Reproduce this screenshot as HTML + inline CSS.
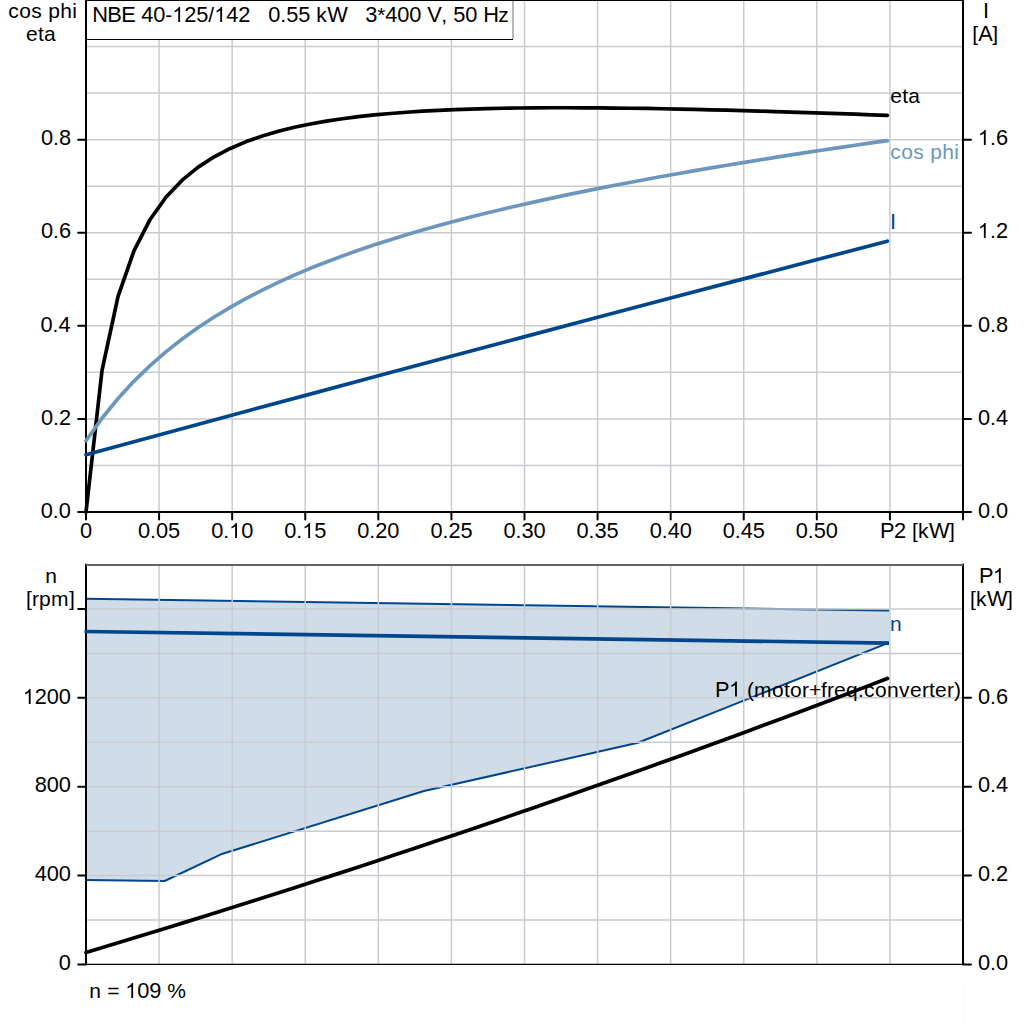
<!DOCTYPE html><html><head><meta charset="utf-8"><style>html,body{margin:0;padding:0;background:#fff;width:1024px;height:1024px;overflow:hidden}svg{display:block}text{font-family:"Liberation Sans", sans-serif;font-size:21px}</style></head><body>
<svg width="1024" height="1024" viewBox="0 0 1024 1024">
<rect width="1024" height="1024" fill="#fff"/>
<path d="M159.08 0V512.0 M232.17 0V512.0 M305.25 0V512.0 M378.33 0V512.0 M451.42 0V512.0 M524.50 0V512.0 M597.58 0V512.0 M670.67 0V512.0 M743.75 0V512.0 M816.83 0V512.0 M889.92 0V512.0 M86.0 465.45H963.0 M86.0 418.91H963.0 M86.0 372.36H963.0 M86.0 325.82H963.0 M86.0 279.27H963.0 M86.0 232.73H963.0 M86.0 186.18H963.0 M86.0 139.64H963.0 M86.0 93.09H963.0 M86.0 46.55H963.0" stroke="#c8ccd0" stroke-width="1.5" fill="none"/>
<rect x="86" y="0.5" width="426.5" height="39" fill="#fff"/>
<path d="M86 39.5H513" stroke="#000" stroke-width="1"/>
<path d="M513 0V39" stroke="#a0a0a0" stroke-width="1.5"/>
<path d="M86.0 0V512.0H963.0V0 M78.2 512.00H86.0 M963.0 512.00H971 M78.2 418.91H86.0 M963.0 418.91H971 M78.2 325.82H86.0 M963.0 325.82H971 M78.2 232.73H86.0 M963.0 232.73H971 M78.2 139.64H86.0 M963.0 139.64H971 M86.00 512.0V519.6 M159.08 512.0V519.6 M232.17 512.0V519.6 M305.25 512.0V519.6 M378.33 512.0V519.6 M451.42 512.0V519.6 M524.50 512.0V519.6 M597.58 512.0V519.6 M670.67 512.0V519.6 M743.75 512.0V519.6 M816.83 512.0V519.6 M889.92 512.0V519.6 M963.00 512.0V519.6" stroke="#000" stroke-width="2" fill="none" stroke-linecap="round"/>
<path d="M86.0 0H963.0" stroke="#000" stroke-width="2"/>
<polyline points="86.00,512.00 102.03,370.34 118.05,296.36 134.08,250.56 150.10,219.46 166.13,197.04 182.16,180.19 198.18,167.14 214.21,156.79 230.23,148.45 246.26,141.61 262.29,135.96 278.31,131.25 294.34,127.29 310.36,123.95 326.39,121.11 342.42,118.71 358.44,116.67 374.47,114.94 390.49,113.47 406.52,112.24 422.55,111.20 438.57,110.33 454.60,109.62 470.62,109.05 486.65,108.60 502.68,108.25 518.70,108.00 534.73,107.84 550.75,107.75 566.78,107.73 582.81,107.78 598.83,107.88 614.86,108.03 630.88,108.23 646.91,108.47 662.94,108.76 678.96,109.07 694.99,109.42 711.01,109.80 727.04,110.21 743.07,110.64 759.09,111.10 775.12,111.58 791.14,112.07 807.17,112.59 823.20,113.12 839.22,113.66 855.25,114.22 871.27,114.79 887.30,115.38" stroke="#000" stroke-width="3.7" fill="none" stroke-linejoin="round" stroke-linecap="round"/>
<polyline points="86.00,440.74 102.03,418.24 118.05,398.54 134.08,381.11 150.10,365.58 166.13,351.62 182.16,339.00 198.18,327.51 214.21,316.99 230.23,307.32 246.26,298.38 262.29,290.08 278.31,282.35 294.34,275.13 310.36,268.34 326.39,261.96 342.42,255.93 358.44,250.22 374.47,244.81 390.49,239.65 406.52,234.73 422.55,230.03 438.57,225.53 454.60,221.20 470.62,217.05 486.65,213.04 502.68,209.18 518.70,205.44 534.73,201.83 550.75,198.32 566.78,194.92 582.81,191.62 598.83,188.40 614.86,185.27 630.88,182.21 646.91,179.22 662.94,176.30 678.96,173.45 694.99,170.65 711.01,167.91 727.04,165.22 743.07,162.58 759.09,159.98 775.12,157.43 791.14,154.91 807.17,152.44 823.20,150.00 839.22,147.59 855.25,145.22 871.27,142.87 887.30,140.56" stroke="#6d96bd" stroke-width="3.7" fill="none" stroke-linejoin="round" stroke-linecap="round"/>
<polyline points="86.00,454.71 158.85,434.93 231.69,415.22 304.54,395.59 377.38,376.04 450.23,356.56 523.07,337.15 595.92,317.83 668.76,298.57 741.61,279.39 814.45,260.29 887.30,241.26" stroke="#00468c" stroke-width="3.7" fill="none" stroke-linecap="round" stroke-linejoin="round"/>
<text y="22"><tspan x="92.28" font-size="21.8">N</tspan><tspan x="107.28" font-size="21.8">B</tspan><tspan x="121.28" font-size="21.8">E</tspan><tspan x="141.28" font-size="21.8">4</tspan><tspan x="153.28" font-size="21.8">0</tspan><tspan x="165.28">-</tspan><tspan x="184.28" font-size="21.8">2</tspan><tspan x="196.28" font-size="21.8">5</tspan><tspan x="208.28">/</tspan><tspan x="226.28" font-size="21.8">4</tspan><tspan x="238.28" font-size="21.8">2</tspan><tspan x="268.28" font-size="21.8">0</tspan><tspan x="280.28">.</tspan><tspan x="286.28" font-size="21.8">5</tspan><tspan x="298.28" font-size="21.8">5</tspan><tspan x="316.28">k</tspan><tspan x="327.28" font-size="21.8">W</tspan><tspan x="365.28" font-size="21.8">3</tspan><tspan x="377.28">*</tspan><tspan x="385.28" font-size="21.8">4</tspan><tspan x="397.28" font-size="21.8">0</tspan><tspan x="409.28" font-size="21.8">0</tspan><tspan x="427.28" font-size="21.8">V</tspan><tspan x="441.28">,</tspan><tspan x="453.28" font-size="21.8">5</tspan><tspan x="465.28" font-size="21.8">0</tspan><tspan x="483.28" font-size="21.8">H</tspan><tspan x="498.28">z</tspan></text><path d="M763 0L583 0L583 1147Q518 1085 412 1023Q306 961 223 930L223 1104Q372 1174 484 1274Q596 1374 643 1466L763 1466Z" transform="translate(172.28 22) scale(0.010254 -0.010254)"/><path d="M763 0L583 0L583 1147Q518 1085 412 1023Q306 961 223 930L223 1104Q372 1174 484 1274Q596 1374 643 1466L763 1466Z" transform="translate(214.28 22) scale(0.010254 -0.010254)"/>
<text y="18"><tspan x="8.21">c</tspan><tspan x="19.21">o</tspan><tspan x="31.21">s</tspan><tspan x="48.21">p</tspan><tspan x="60.21">h</tspan><tspan x="72.21">i</tspan></text>
<text y="41"><tspan x="26.11">e</tspan><tspan x="38.11">t</tspan><tspan x="44.11">a</tspan></text>
<text y="18"><tspan x="982.96" font-size="21.8">I</tspan></text>
<text y="41"><tspan x="972.30">[</tspan><tspan x="978.30" font-size="21.8">A</tspan><tspan x="992.30">]</tspan></text>
<text y="518"><tspan x="40.81" font-size="21.8">0</tspan><tspan x="52.81">.</tspan><tspan x="58.81" font-size="21.8">0</tspan></text>
<text y="425"><tspan x="41.05" font-size="21.8">0</tspan><tspan x="53.05">.</tspan><tspan x="59.05" font-size="21.8">2</tspan></text>
<text y="332"><tspan x="40.61" font-size="21.8">0</tspan><tspan x="52.61">.</tspan><tspan x="58.61" font-size="21.8">4</tspan></text>
<text y="238"><tspan x="40.92" font-size="21.8">0</tspan><tspan x="52.92">.</tspan><tspan x="58.92" font-size="21.8">6</tspan></text>
<text y="145"><tspan x="40.91" font-size="21.8">0</tspan><tspan x="52.91">.</tspan><tspan x="58.91" font-size="21.8">8</tspan></text>
<text y="518"><tspan x="977.90" font-size="21.8">0</tspan><tspan x="989.90">.</tspan><tspan x="995.90" font-size="21.8">0</tspan></text>
<text y="425"><tspan x="977.90" font-size="21.8">0</tspan><tspan x="989.90">.</tspan><tspan x="995.90" font-size="21.8">4</tspan></text>
<text y="332"><tspan x="977.90" font-size="21.8">0</tspan><tspan x="989.90">.</tspan><tspan x="995.90" font-size="21.8">8</tspan></text>
<text y="238"><tspan x="989.90">.</tspan><tspan x="995.90" font-size="21.8">2</tspan></text><path d="M763 0L583 0L583 1147Q518 1085 412 1023Q306 961 223 930L223 1104Q372 1174 484 1274Q596 1374 643 1466L763 1466Z" transform="translate(977.90 238) scale(0.010254 -0.010254)"/>
<text y="145"><tspan x="989.90">.</tspan><tspan x="995.90" font-size="21.8">6</tspan></text><path d="M763 0L583 0L583 1147Q518 1085 412 1023Q306 961 223 930L223 1104Q372 1174 484 1274Q596 1374 643 1466L763 1466Z" transform="translate(977.90 145) scale(0.010254 -0.010254)"/>
<text y="538"><tspan x="79.99" font-size="21.8">0</tspan></text>
<text y="538"><tspan x="138.11" font-size="21.8">0</tspan><tspan x="150.11">.</tspan><tspan x="156.11" font-size="21.8">0</tspan><tspan x="168.11" font-size="21.8">5</tspan></text>
<text y="538"><tspan x="211.16" font-size="21.8">0</tspan><tspan x="223.16">.</tspan><tspan x="241.16" font-size="21.8">0</tspan></text><path d="M763 0L583 0L583 1147Q518 1085 412 1023Q306 961 223 930L223 1104Q372 1174 484 1274Q596 1374 643 1466L763 1466Z" transform="translate(229.16 538) scale(0.010254 -0.010254)"/>
<text y="538"><tspan x="284.27" font-size="21.8">0</tspan><tspan x="296.27">.</tspan><tspan x="314.27" font-size="21.8">5</tspan></text><path d="M763 0L583 0L583 1147Q518 1085 412 1023Q306 961 223 930L223 1104Q372 1174 484 1274Q596 1374 643 1466L763 1466Z" transform="translate(302.27 538) scale(0.010254 -0.010254)"/>
<text y="538"><tspan x="357.33" font-size="21.8">0</tspan><tspan x="369.33">.</tspan><tspan x="375.33" font-size="21.8">2</tspan><tspan x="387.33" font-size="21.8">0</tspan></text>
<text y="538"><tspan x="430.44" font-size="21.8">0</tspan><tspan x="442.44">.</tspan><tspan x="448.44" font-size="21.8">2</tspan><tspan x="460.44" font-size="21.8">5</tspan></text>
<text y="538"><tspan x="503.49" font-size="21.8">0</tspan><tspan x="515.49">.</tspan><tspan x="521.49" font-size="21.8">3</tspan><tspan x="533.49" font-size="21.8">0</tspan></text>
<text y="538"><tspan x="576.61" font-size="21.8">0</tspan><tspan x="588.61">.</tspan><tspan x="594.61" font-size="21.8">3</tspan><tspan x="606.61" font-size="21.8">5</tspan></text>
<text y="538"><tspan x="649.66" font-size="21.8">0</tspan><tspan x="661.66">.</tspan><tspan x="667.66" font-size="21.8">4</tspan><tspan x="679.66" font-size="21.8">0</tspan></text>
<text y="538"><tspan x="722.77" font-size="21.8">0</tspan><tspan x="734.77">.</tspan><tspan x="740.77" font-size="21.8">4</tspan><tspan x="752.77" font-size="21.8">5</tspan></text>
<text y="538"><tspan x="795.83" font-size="21.8">0</tspan><tspan x="807.83">.</tspan><tspan x="813.83" font-size="21.8">5</tspan><tspan x="825.83" font-size="21.8">0</tspan></text>
<text y="538"><tspan x="880.03" font-size="21.8">P</tspan><tspan x="894.03" font-size="21.8">2</tspan><tspan x="912.03">[</tspan><tspan x="918.03">k</tspan><tspan x="929.03" font-size="21.8">W</tspan><tspan x="949.03">]</tspan></text>
<text y="103"><tspan x="890.21">e</tspan><tspan x="902.21">t</tspan><tspan x="908.21">a</tspan></text>
<text y="158.6" fill="#6d96bd"><tspan x="890.21">c</tspan><tspan x="901.21">o</tspan><tspan x="913.21">s</tspan><tspan x="930.21">p</tspan><tspan x="942.21">h</tspan><tspan x="954.21">i</tspan></text>
<text y="228.7" fill="#00468c"><tspan x="889.96" font-size="21.8">I</tspan></text>
<polygon points="86.00,598.70 889.00,610.50 889.00,642.60 638.00,742.80 424.00,791.00 221.00,854.30 164.65,881.00 86.00,879.90" fill="#d0dce8"/>
<polyline points="86.00,598.70 889.00,610.50" stroke="#00468c" stroke-width="2.0" fill="none"/>
<polyline points="889.00,642.60 638.00,742.80 424.00,791.00 221.00,854.30 164.65,881.00 86.00,879.90" stroke="#00468c" stroke-width="2.0" fill="none" stroke-linejoin="round"/>
<path d="M159.08 564.5V964.5 M232.17 564.5V964.5 M305.25 564.5V964.5 M378.33 564.5V964.5 M451.42 564.5V964.5 M524.50 564.5V964.5 M597.58 564.5V964.5 M670.67 564.5V964.5 M743.75 564.5V964.5 M816.83 564.5V964.5 M889.92 564.5V964.5 M86.0 920.06H963.0 M86.0 875.61H963.0 M86.0 831.17H963.0 M86.0 786.72H963.0 M86.0 742.28H963.0 M86.0 697.83H963.0 M86.0 653.39H963.0 M86.0 608.94H963.0" stroke="#c8ccd0" stroke-width="1.5" fill="none"/>
<path d="M86.0 564.5V964.0 M963.0 564.5V964.0 M78.2 964.50H86.0 M963.0 964.50H971 M78.2 875.61H86.0 M963.0 875.61H971 M78.2 786.72H86.0 M963.0 786.72H971 M78.2 697.83H86.0 M963.0 697.83H971 M78.2 608.94H86.0" stroke="#000" stroke-width="2" fill="none" stroke-linecap="round"/>
<path d="M86.0 964.4H963.0" stroke="#000" stroke-width="1.25"/>
<path d="M86.0 565H963.0" stroke="#626366" stroke-width="2"/>
<line x1="84.5" y1="631.5" x2="889" y2="643.1" stroke="#00468c" stroke-width="3.7"/>
<polyline points="86.00,952.51 106.55,946.32 127.10,940.09 147.65,933.82 168.19,927.50 188.74,921.14 209.29,914.73 229.84,908.28 250.39,901.79 270.94,895.25 291.49,888.67 312.04,882.04 332.58,875.37 353.13,868.65 373.68,861.89 394.23,855.09 414.78,848.24 435.33,841.35 455.88,834.41 476.43,827.43 496.97,820.40 517.52,813.33 538.07,806.22 558.62,799.06 579.17,791.86 599.72,784.61 620.27,777.32 640.82,769.99 661.36,762.61 681.91,755.19 702.46,747.72 723.01,740.21 743.56,732.65 764.11,725.05 784.66,717.41 805.21,709.72 825.75,701.99 846.30,694.21 866.85,686.39 887.40,678.52" stroke="#000" stroke-width="3.7" fill="none" stroke-linecap="round"/>
<text y="583"><tspan x="45.31">n</tspan></text>
<text y="606"><tspan x="26.00">[</tspan><tspan x="32.00">r</tspan><tspan x="39.00">p</tspan><tspan x="51.00">m</tspan><tspan x="69.00">]</tspan></text>
<text y="583"><tspan x="978.88" font-size="21.8">P</tspan></text><path d="M763 0L583 0L583 1147Q518 1085 412 1023Q306 961 223 930L223 1104Q372 1174 484 1274Q596 1374 643 1466L763 1466Z" transform="translate(992.88 583) scale(0.010254 -0.010254)"/>
<text y="606"><tspan x="970.10">[</tspan><tspan x="976.10">k</tspan><tspan x="987.10" font-size="21.8">W</tspan><tspan x="1007.10">]</tspan></text>
<text y="970"><tspan x="58.81" font-size="21.8">0</tspan></text>
<text y="881"><tspan x="34.81" font-size="21.8">4</tspan><tspan x="46.81" font-size="21.8">0</tspan><tspan x="58.81" font-size="21.8">0</tspan></text>
<text y="792"><tspan x="34.81" font-size="21.8">8</tspan><tspan x="46.81" font-size="21.8">0</tspan><tspan x="58.81" font-size="21.8">0</tspan></text>
<text y="704"><tspan x="34.81" font-size="21.8">2</tspan><tspan x="46.81" font-size="21.8">0</tspan><tspan x="58.81" font-size="21.8">0</tspan></text><path d="M763 0L583 0L583 1147Q518 1085 412 1023Q306 961 223 930L223 1104Q372 1174 484 1274Q596 1374 643 1466L763 1466Z" transform="translate(22.81 704) scale(0.010254 -0.010254)"/>
<text y="970"><tspan x="977.90" font-size="21.8">0</tspan><tspan x="989.90">.</tspan><tspan x="995.90" font-size="21.8">0</tspan></text>
<text y="881"><tspan x="977.90" font-size="21.8">0</tspan><tspan x="989.90">.</tspan><tspan x="995.90" font-size="21.8">2</tspan></text>
<text y="792"><tspan x="977.90" font-size="21.8">0</tspan><tspan x="989.90">.</tspan><tspan x="995.90" font-size="21.8">4</tspan></text>
<text y="704"><tspan x="977.90" font-size="21.8">0</tspan><tspan x="989.90">.</tspan><tspan x="995.90" font-size="21.8">6</tspan></text>
<text y="631" fill="#00468c"><tspan x="889.91">n</tspan></text>
<text y="696.5"><tspan x="715.08" font-size="21.8">P</tspan><tspan x="747.08">(</tspan><tspan x="754.08">m</tspan><tspan x="772.08">o</tspan><tspan x="784.08">t</tspan><tspan x="790.08">o</tspan><tspan x="802.08">r</tspan><tspan x="809.08">+</tspan><tspan x="821.08">f</tspan><tspan x="827.08">r</tspan><tspan x="834.08">e</tspan><tspan x="846.08">q</tspan><tspan x="858.08">.</tspan><tspan x="864.08">c</tspan><tspan x="875.08">o</tspan><tspan x="887.08">n</tspan><tspan x="899.08">v</tspan><tspan x="910.08">e</tspan><tspan x="922.08">r</tspan><tspan x="929.08">t</tspan><tspan x="935.08">e</tspan><tspan x="947.08">r</tspan><tspan x="954.08">)</tspan></text><path d="M763 0L583 0L583 1147Q518 1085 412 1023Q306 961 223 930L223 1104Q372 1174 484 1274Q596 1374 643 1466L763 1466Z" transform="translate(729.08 696.5) scale(0.010254 -0.010254)"/>
<rect x="85.5" y="979.5" width="878" height="60" fill="none" stroke="#fbfbfb" stroke-width="1"/>
<text y="998"><tspan x="89.31">n</tspan><tspan x="107.31">=</tspan><tspan x="137.31" font-size="21.8">0</tspan><tspan x="149.31" font-size="21.8">9</tspan><tspan x="167.31">%</tspan></text><path d="M763 0L583 0L583 1147Q518 1085 412 1023Q306 961 223 930L223 1104Q372 1174 484 1274Q596 1374 643 1466L763 1466Z" transform="translate(125.31 998) scale(0.010254 -0.010254)"/>
</svg></body></html>
